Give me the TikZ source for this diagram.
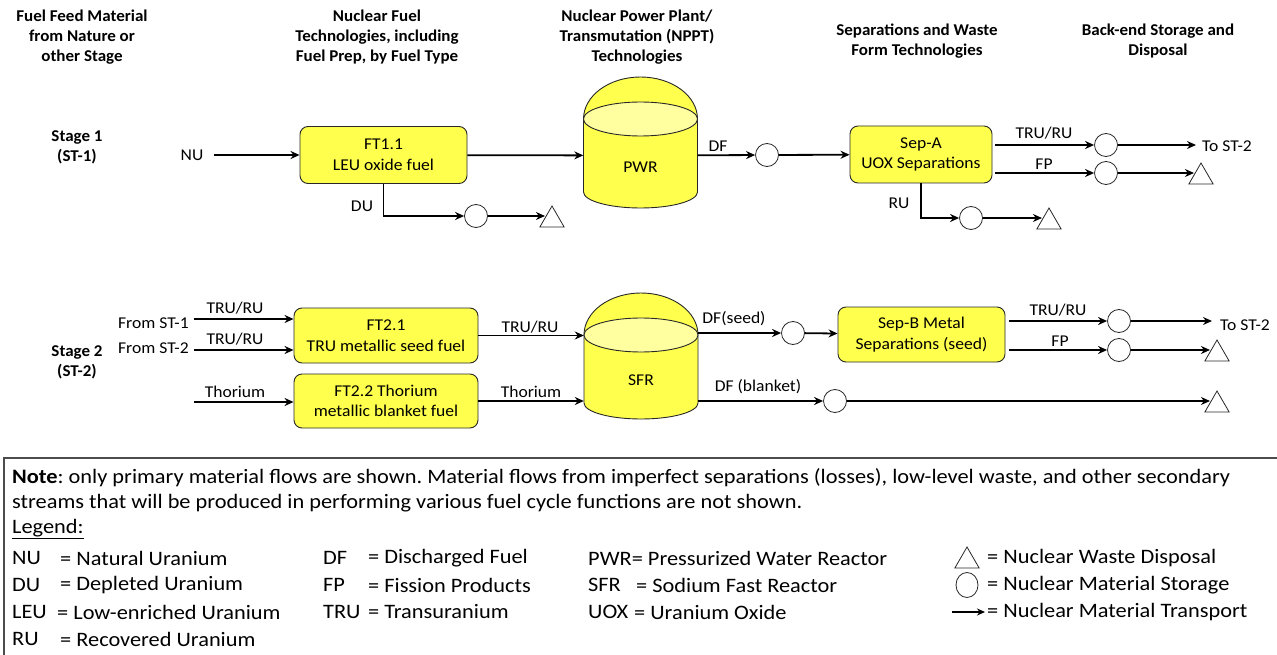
\documentclass[tikz,border=0pt]{standalone}
\usepackage{fontspec}
\setmainfont{Carlito}
\newfontfamily\hdrfont[FakeStretch=1.03]{Carlito}
\newfontfamily\lblfont[FakeStretch=1.065]{Carlito}
\newfontfamily\lgfont[FakeStretch=1.09]{Carlito}
\usetikzlibrary{arrows.meta,shapes.geometric,calc}
\definecolor{fillY}{RGB}{255,255,77}
\definecolor{fillL}{RGB}{255,255,160}
\definecolor{edge}{RGB}{40,40,40}
\frenchspacing
\begin{document}
\begin{tikzpicture}[x=1pt,y=-1pt,
  hdr/.style={font=\hdrfont\bfseries\fontsize{16.5}{20}\selectfont, align=center, inner sep=0},
  lbl/.style={font=\lblfont\fontsize{16.5}{20}\selectfont, inner sep=0},
  fbox/.style={draw=edge, line width=0.9pt, fill=fillY, rounded corners=8pt, align=center, font=\lblfont\fontsize{16.5}{20.5}\selectfont, inner sep=0},
  store/.style={circle, draw=edge, line width=0.8pt, fill=white, minimum size=23pt, inner sep=0},
  disp/.style={regular polygon, regular polygon sides=3, draw=edge, line width=0.8pt, fill=white, minimum size=28pt, inner sep=0},
  flow/.style={line width=1.8pt, -{Stealth[length=9pt,width=8pt]}},
  lg/.style={font=\lgfont\fontsize{20.5}{24}\selectfont, inner sep=0, anchor=west},
  cyl/.style={fill=fillY, draw=edge, line width=0.9pt},
  cyltop/.style={fill=fillL, draw=edge, line width=0.9pt},
]
\useasboundingbox (0,0) rectangle (1277,655);
\clip (0,0) rectangle (1277,655);
\fill[white] (0,0) rectangle (1277,655);

% headers
\node[hdr] (h1) at (82,37) {Fuel Feed Material\\from Nature or\\other Stage};
\node[hdr] (h2) at (377,37) {Nuclear Fuel\\Technologies, including\\Fuel Prep, by Fuel Type};
\node[hdr] (h3) at (637,37) {Nuclear Power Plant/\\Transmutation (NPPT)\\Technologies};
\node[hdr] (h4) at (917,41) {Separations and Waste\\Form Technologies};
\node[hdr] (h5) at (1158,41) {Back-end Storage and\\Disposal};

\node[hdr] (st1) at (77,147) {Stage 1\\(ST-1)};
\node[hdr] (st2) at (77,362) {Stage 2\\(ST-2)};

% cylinders
\path[cyl] (583.5,119) -- (583.5,192) arc[start angle=180, end angle=360, x radius=57pt, y radius=16pt] -- (697.5,119) arc[start angle=0, end angle=180, x radius=57pt, y radius=42pt] -- cycle;
\path[cyltop] (640.5,119) ellipse [x radius=57pt, y radius=17pt];
\node (pwr) [minimum width=114pt, minimum height=73pt, inner sep=0] at (640.5,155.5) {};
\node[lbl] (pwrt) at (640.5,167) {PWR};

\path[cyl] (584,335) -- (584,403) arc[start angle=180, end angle=360, x radius=57pt, y radius=16pt] -- (698,335) arc[start angle=0, end angle=180, x radius=57pt, y radius=42pt] -- cycle;
\path[cyltop] (641,335) ellipse [x radius=57pt, y radius=17pt];
\node (sfr) [minimum width=114pt, minimum height=68pt, inner sep=0] at (641,369) {};
\node[lbl] (sfrt) at (641,380) {SFR};

% stage 1
\node[lbl] (nu) at (192,155) {NU};
\node[fbox, minimum width=167pt, minimum height=57pt] (ft11) at (383.5,155) {FT1.1\\LEU oxide fuel};
\node[lbl] (dulbl) at (362,206) {DU};
\node[store] (duc) at (476,216) {};
\node[disp] (dut) at (552,220) {};
\node[lbl] (dflbl) at (718,146) {DF};
\node[store] (dfc) at (767,155) {};
\node[fbox, minimum width=142pt, minimum height=57pt] (sepa) at (921,154.5) {Sep-A\\UOX Separations};
\node[lbl] (trlbl1) at (1044,133) {TRU/RU};
\node[store] (tr1) at (1106,145) {};
\node[lbl, anchor=west] (to1) at (1202,146) {To ST-2};
\node[lbl] (fplbl1) at (1044,164) {FP};
\node[store] (fp1) at (1106,173) {};
\node[disp] (fpt1) at (1201,177) {};
\node[lbl] (rulbl) at (899,203) {RU};
\node[store] (ruc) at (971,218) {};
\node[disp] (rut) at (1049,222) {};

\draw[flow] ([xshift=10pt]nu.east) -- (ft11.west);
\draw[flow] (ft11) -- (pwr);
\draw[flow] (pwr) -- (dfc);
\draw[flow] (dfc) -- (sepa);
\draw[flow] ([xshift=3pt]sepa.east |- tr1) -- (tr1);
\draw[flow] (tr1) -- ([xshift=-6pt]to1.west |- tr1);
\draw[flow] ([xshift=3pt]sepa.east |- fp1) -- (fp1);
\draw[flow] (fp1) -- ([xshift=1.5pt]fp1 -| fpt1.west);
\draw[flow] (ft11.south) |- (duc);
\draw[flow] (duc) -- ([xshift=1.5pt]duc -| dut.west);
\draw[flow] (sepa.south) |- (ruc);
\draw[flow] (ruc) -- ([xshift=1.5pt]ruc -| rut.west);

% stage 2
\node[lbl, anchor=east] (fs1) at (189,323) {From ST-1};
\node[lbl, anchor=east] (fs2) at (189,348) {From ST-2};
\node[lbl] (in1lbl) at (235,308) {TRU/RU};
\node[lbl] (in2lbl) at (235,339) {TRU/RU};
\node[lbl] (in3lbl) at (235,392) {Thorium};
\coordinate (s1) at (194,319);
\coordinate (s2) at (194,350);
\coordinate (s3) at (194,402);
\node[fbox, minimum width=184pt, minimum height=55pt] (ft21) at (386,335.5) {FT2.1\\TRU metallic seed fuel};
\node[fbox, minimum width=184pt, minimum height=54pt] (ft22) at (386,401) {FT2.2 Thorium\\metallic blanket fuel};
\node[lbl] (o1lbl) at (530,327) {TRU/RU};
\node[lbl] (o2lbl) at (531,392) {Thorium};
\node[lbl] (dsl) at (734,319) {DF(seed)};
\node[store] (dsc) at (793,333) {};
\node[fbox, minimum width=167pt, minimum height=55pt] (sepb) at (921.5,334.5) {Sep-B Metal\\Separations (seed)};
\node[lbl] (trlbl2) at (1058,310) {TRU/RU};
\node[store] (tr2) at (1119,321) {};
\node[lbl, anchor=west] (to2) at (1220,325) {To ST-2};
\node[lbl] (fplbl2) at (1060,341) {FP};
\node[store] (fp2) at (1119,350) {};
\node[disp] (fpt2) at (1217,354) {};
\node[lbl] (dbl) at (758,387) {DF (blanket)};
\node[store] (dbc) at (835,401) {};
\node[disp] (dbt) at (1217,405) {};

\draw[flow] (s1) -- (s1 -| ft21.west);
\draw[flow] (s2) -- (s2 -| ft21.west);
\draw[flow] (s3) -- (s3 -| ft22.west);
\draw[flow] (ft21) -- (ft21 -| sfr.west);
\draw[flow] (ft22) -- (ft22 -| sfr.west);
\draw[flow] (sfr.east |- dsc) -- (dsc);
\draw[flow] (dsc) -- (sepb);
\draw[flow] ([xshift=4pt]sepb.east |- tr2) -- (tr2);
\draw[flow] (tr2) -- ([xshift=-8pt]to2.west |- tr2);
\draw[flow] ([xshift=4pt]sepb.east |- fp2) -- (fp2);
\draw[flow] (fp2) -- ([xshift=1.5pt]fp2 -| fpt2.west);
\draw[flow] (sfr.east |- dbc) -- (dbc);
\draw[flow] (dbc) -- ([xshift=1.5pt]dbc -| dbt.west);

% legend box
\draw[draw=black!70, line width=1.2pt] (4,458) rectangle (1295,675);
\node[lg] (note1) at (12,478) {\textbf{Note}: only primary material flows are shown. Material flows from imperfect separations (losses), low-level waste, and other secondary};
\node[lg] (note2) at (12,503) {streams that will be produced in performing various fuel cycle functions are not shown.};
\node[lg] (leg) at (12,529) {\underline{Legend:}};

\node[lg] (a1) at (12,558) {NU};
\node[lg] (b1) at (60,558) {= Natural Uranium};
\node[lg] (a2) at (12,585) {DU};
\node[lg] (b2) at (60,585) {= Depleted Uranium};
\node[lg] (a3) at (12,612) {LEU};
\node[lg] (b3) at (57,612) {= Low-enriched Uranium};
\node[lg] (a4) at (12,639) {RU};
\node[lg] (b4) at (60,639) {= Recovered Uranium};

\node[lg] (c1) at (323,558) {DF};
\node[lg] (d1) at (368,558) {= Discharged Fuel};
\node[lg] (c2) at (323,585) {FP};
\node[lg] (d2) at (368,585) {= Fission Products};
\node[lg] (c3) at (323,612) {TRU};
\node[lg] (d3) at (368,612) {= Transuranium};

\node[lg] (e1) at (588,558) {PWR= Pressurized Water Reactor};
\node[lg] (e2) at (588,585) {SFR};
\node[lg] (f2) at (636,585) {= Sodium Fast Reactor};
\node[lg] (e3) at (588,612) {UOX};
\node[lg] (f3) at (634,612) {= Uranium Oxide};

\node[disp] (lgt) at (967,561) {};
\node[ellipse, draw=edge, line width=0.8pt, minimum width=22pt, minimum height=25pt, inner sep=0] (lgc) at (967,585) {};
\coordinate (la1) at (952,612);
\coordinate (la2) at (985,612);
\draw[line width=1.5pt, -{Stealth[length=8pt,width=7pt]}] (la1) -- (la2);
\node[lg] (g1) at (987,558) {= Nuclear Waste Disposal};
\node[lg] (g2) at (987,585) {= Nuclear Material Storage};
\node[lg] (g3) at (987,612) {= Nuclear Material Transport};
\end{tikzpicture}
\end{document}
